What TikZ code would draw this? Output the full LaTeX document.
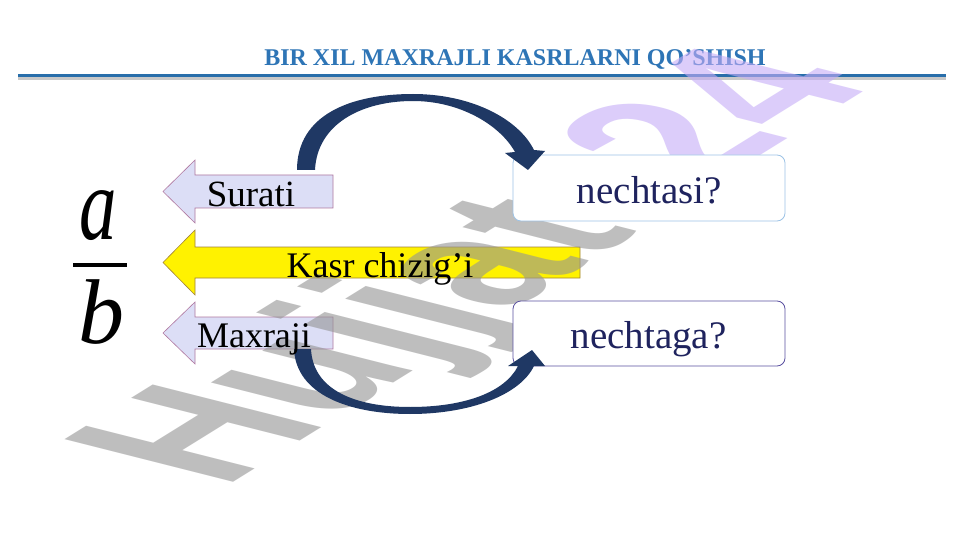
\documentclass[tikz,border=0pt]{standalone}
\usepackage{fontspec}
\setmainfont{Liberation Serif}
\newfontfamily\wmfont{Liberation Sans}
\definecolor{titleblue}{RGB}{46,117,182}
\definecolor{lineblue}{RGB}{40,110,170}
\definecolor{shadowgrey}{RGB}{200,200,200}
\definecolor{lav}{RGB}{220,222,246}
\definecolor{lavborder}{RGB}{176,120,160}
\definecolor{yelborder}{RGB}{160,130,60}
\definecolor{navyarrow}{RGB}{31,56,100}
\definecolor{navytext}{RGB}{31,35,94}
\definecolor{boxblue}{RGB}{157,195,230}
\definecolor{boxpurple}{RGB}{90,80,160}
\definecolor{wmgrey}{RGB}{148,148,148}
\definecolor{wmlav}{RGB}{197,172,247}
\tikzset{
  lbl/.style={inner sep=0pt, anchor=base, text=black, font=\fontsize{37}{40}\selectfont},
  qlbl/.style={inner sep=0pt, anchor=base, text=navytext, font=\fontsize{39}{42}\selectfont},
  qbox/.style={rounded corners=8pt, fill=white, line width=0.8pt, minimum width=272pt, minimum height=66pt, inner sep=0pt},
  leftarrow/.style={line width=0.6pt, draw=lavborder, fill=lav},
  curvearrow/.style={fill=navyarrow, draw=none},
  wmtext/.style={transform shape, anchor=base west, inner sep=0pt, text opacity=0.6, font=\wmfont\bfseries\fontsize{100}{100}\selectfont}
}
\begin{document}
\begin{tikzpicture}[x=1pt,y=-1pt]
\useasboundingbox (0,0) rectangle (961,540);
\fill[white] (0,0) rectangle (961,540);

% title and rule
\node[inner sep=0pt, anchor=base, text=titleblue, font=\fontsize{24}{28}\selectfont\bfseries] (title) at (515,66) {BIR XIL MAXRAJLI KASRLARNI QO’SHISH};
\draw[line width=3pt, shadowgrey] (18,78.5) -- (946,78.5);
\draw[line width=3pt, lineblue] (18,75.5) -- (946,75.5);

% fraction
\node[inner sep=0pt, anchor=base] (numa) at (98,240) {\scalebox{0.72}[1]{\fontsize{104}{110}\selectfont\itshape a}};
\fill (73,262.5) rectangle (127,266.5);
\node[inner sep=0pt, anchor=base] (denb) at (101,343) {\fontsize{92}{100}\selectfont\itshape b};

% left arrows
\draw[leftarrow] (333,175) -- (195,175) -- (195,160) -- (163,191.5) -- (195,223) -- (195,208) -- (333,208) -- cycle;
\draw[leftarrow, fill=yellow, draw=yelborder] (580,247) -- (195,247) -- (195,230) -- (163,262.5) -- (195,295) -- (195,278) -- (580,278) -- cycle;
\draw[leftarrow] (333,317) -- (195,317) -- (195,302) -- (163,333) -- (195,364) -- (195,349) -- (333,349) -- cycle;

% watermark
\begin{scope}[cm={1.50,0.93,-2.45,0.62,(223,489)}]
\node[wmtext] (wm) at (0,0) {\textcolor{wmgrey}{Hujjat}};
\node[wmtext] (wmnum) at (325,0) {\textcolor{wmlav}{24}};
\end{scope}

% question boxes
\node[qbox, draw=boxblue] (boxA) at (649,188) {};
\node[qbox, draw=boxpurple, minimum height=65pt] (boxB) at (649,333.5) {};

% curved arrows
\fill[curvearrow] (297,170) .. controls (297,115) and (350,94) .. (413,94)
   .. controls (470,94) and (518,118) .. (534,150) -- (545,151) -- (528,170) -- (505,153) -- (515,152)
   .. controls (500,125) and (460,101) .. (413,101)
   .. controls (360,101) and (317,125) .. (315,170) -- cycle;
\fill[curvearrow] (294,349) .. controls (296,395) and (350,414) .. (410,414)
   .. controls (470,414) and (520,395) .. (534,366) -- (545,366) -- (532,350) -- (508,366) -- (518,366)
   .. controls (505,392) and (465,407) .. (410,407)
   .. controls (355,407) and (313,390) .. (311,349) -- cycle;

% texts
\node[lbl] (surati) at (251,207) {Surati};
\node[lbl, font=\fontsize{36}{40}\selectfont] (kasr) at (380,277) {Kasr chizig’i};
\node[lbl, font=\fontsize{36}{40}\selectfont] (maxraji) at (254,347) {Maxraji};
\node[qlbl] (qa) at (649.5,204) {nechtasi?};
\node[qlbl] (qb) at (648.5,348) {nechtaga?};
\end{tikzpicture}
\end{document}
